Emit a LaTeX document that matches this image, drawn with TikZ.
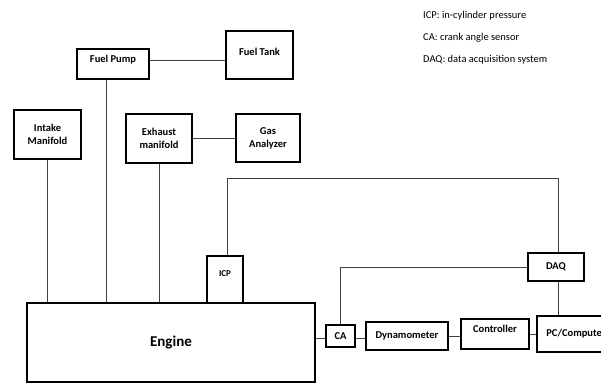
\documentclass[tikz,border=0pt]{standalone}
\usepackage{fontspec}
\setmainfont{Carlito}
\begin{document}
\begin{tikzpicture}[x=1pt,y=-1pt,
  box/.style={draw, line width=1.2pt, inner sep=0pt, font=\bfseries\fontsize{10.5}{13}\selectfont, align=center},
  ln/.style={line width=0.7pt, black!75},
  legend/.style={anchor=west, inner sep=0pt, font=\fontsize{10.5}{12}\selectfont}]
\useasboundingbox (0,0) rectangle (601,383);
\clip (0,0) rectangle (601,383);
\node[box, minimum width=72pt, minimum height=30pt, text height=13pt, text depth=17pt] (fp) at (113,64) {Fuel Pump};
\node[box, minimum width=67pt, minimum height=48pt, text height=24pt, text depth=24pt] (ft) at (259.5,55) {Fuel Tank};
\node[box, minimum width=67pt, minimum height=49pt] (im) at (47.5,134.5) {Intake\\Manifold};
\node[box, minimum width=66pt, minimum height=49pt] (em) at (159,138.5) {Exhaust\\manifold};
\node[box, minimum width=64pt, minimum height=48pt] (ga) at (268,138) {Gas\\Analyzer};
\node[box, minimum width=288pt, minimum height=79pt, font=\bfseries\fontsize{15}{17}\selectfont] (en) at (171,342.5) {Engine};
\node[box, minimum width=36pt, minimum height=47pt, font=\bfseries\fontsize{9}{11}\selectfont, text height=20pt, text depth=27pt] (icp) at (225,279.5) {ICP};
\node[box, minimum width=29pt, minimum height=22pt] (ca) at (340.5,336) {CA};
\node[box, minimum width=82pt, minimum height=28pt] (dy) at (407,336) {Dynamometer};
\node[box, minimum width=68pt, minimum height=30pt, text height=13pt, text depth=17pt] (ct) at (495,334) {Controller};
\node[box, minimum width=78pt, minimum height=36pt] (pc) at (576,334) {PC/Computer};
\node[box, minimum width=56pt, minimum height=28pt] (daq) at (556,267) {DAQ};
\node[legend] (l1) at (423,16) {ICP: in-cylinder pressure};
\node[legend] (l2) at (423,38) {CA: crank angle sensor};
\node[legend] (l3) at (423,60) {DAQ: data acquisition system};
\coordinate (top) at (0,178);
\draw[ln] ([yshift=4pt]fp.east) -- ([yshift=4pt]fp.east -| ft.west);
\draw[ln] (im.south) -- (im.south |- en.north);
\draw[ln] ([xshift=-7pt]fp.south) -- ([xshift=-7pt]fp.south |- en.north);
\draw[ln] (em.south) -- (em.south |- en.north);
\draw[ln] (em.east) -- (em.east -| ga.west);
\draw[ln] ([xshift=2pt]icp.north) -- ([xshift=2pt]icp.north |- top) -| ([xshift=2pt]daq.north);
\draw[ln] ([xshift=2pt]daq.south) -- ([xshift=2pt]daq.south |- pc.north);
\draw[ln] (ca.north) |- (daq.west);
\draw[ln] ([yshift=-2pt]ca.west) -- ([yshift=-2pt]ca.west -| en.east);
\draw[ln] ([yshift=-2pt]ca.east) -- ([yshift=-2pt]ca.east -| dy.west);
\draw[ln] (dy.east) -- (dy.east -| ct.west);
\draw[ln] (ct.east) -- (ct.east -| pc.west);
\end{tikzpicture}
\end{document}
